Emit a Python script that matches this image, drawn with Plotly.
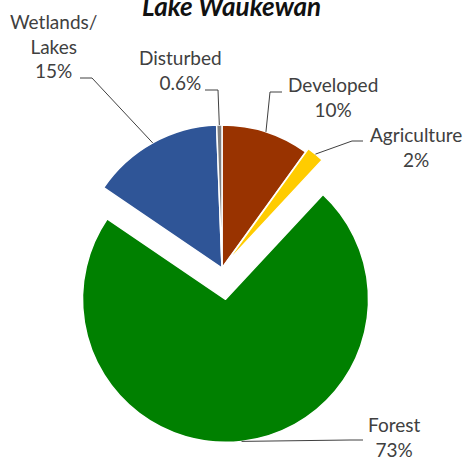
import math
import plotly.graph_objects as go

# ---- data ----
categories = ["Developed", "Agriculture", "Forest", "Wetlands/Lakes", "Disturbed"]
percent = [10, 2, 73, 15, 0.6]
chart_title = "Lake Waukewan"

# ---- styles ----
slice_colors = ["#993300", "#FFCC00", "#008000", "#2F5597", "#7F7F7F"]
pulls = [0, 0.03, 0.22, 0, 0]
W, H = 469, 457
dom_x = [0.1013, 0.8454]
dom_y = [0.0317, 0.7954]
label_font = dict(family="Lato, Carlito, Calibri, sans-serif", size=19, color="#404040")
title_font = dict(family="Lato, Carlito, Calibri, sans-serif", size=26, color="#111111")

# label block centers and leader (text-side point, elbow) in pixels
label_center = {
    "Developed": (333, 97),
    "Agriculture": (416, 147),
    "Forest": (394, 437),
    "Wetlands/Lakes": (53, 46),
    "Disturbed": (180, 70),
}
leader_pts = {
    "Developed": [(282, 92), (270, 92)],
    "Agriculture": [(363, 141), (352, 141)],
    "Forest": [(363, 440), (350, 440)],
    "Wetlands/Lakes": [(80, 78), (92, 78)],
    "Disturbed": [(205, 90), (218, 90)],
}


def px(x):
    return x / W


def py(y):
    return 1 - y / H


fig = go.Figure(
    go.Pie(
        labels=categories,
        values=percent,
        sort=False,
        direction="clockwise",
        rotation=0,
        pull=pulls,
        marker=dict(colors=slice_colors, line=dict(color="white", width=1.5)),
        textinfo="none",
        hoverinfo="label+percent",
        domain=dict(x=dom_x, y=dom_y),
        showlegend=False,
    )
)

# pie geometry as plotly computes it
boxW = W * (dom_x[1] - dom_x[0])
boxH = H * (dom_y[1] - dom_y[0])
r = min(boxW, boxH) / 2 / (1 + max(pulls))
cx = W * (dom_x[0] + dom_x[1]) / 2
cy = H * (1 - dom_y[0]) - boxH / 2

total = sum(percent)
cum = 0
annotations = []
shapes = []
for name, v, p in zip(categories, percent, pulls):
    start = cum / total * 360
    span = v / total * 360
    cum += v
    mid = math.radians(start + span / 2)
    ccx = cx + p * r * math.sin(mid)
    ccy = cy - p * r * math.cos(mid)
    ax = ccx + r * math.sin(mid)
    ay = ccy - r * math.cos(mid)
    text = name.replace("/", "/<br>") + "<br>" + f"{v:g}%"
    lx, ly = label_center[name]
    annotations.append(dict(
        x=px(lx), y=py(ly), xref="paper", yref="paper",
        text=text, showarrow=False, align="center",
        xanchor="center", yanchor="middle", font=label_font,
    ))
    (sx, sy), (ex, ey) = leader_pts[name]
    path = f"M {px(sx)},{py(sy)} L {px(ex)},{py(ey)} L {px(ax)},{py(ay)}"
    shapes.append(dict(type="path", path=path, xref="paper", yref="paper",
                       line=dict(color="#404040", width=1)))

annotations.append(dict(
    x=px(231), y=py(6), xref="paper", yref="paper",
    text=f"<b><i>{chart_title}</i></b>", showarrow=False,
    xanchor="center", yanchor="middle", font=title_font,
))

fig.update_layout(
    width=W, height=H,
    margin=dict(l=0, r=0, t=0, b=0),
    paper_bgcolor="white",
    plot_bgcolor="white",
    annotations=annotations,
    shapes=shapes,
)

fig.write_html("out.html", config={"displayModeBar": False},
               post_script="document.body.style.margin='0';")
